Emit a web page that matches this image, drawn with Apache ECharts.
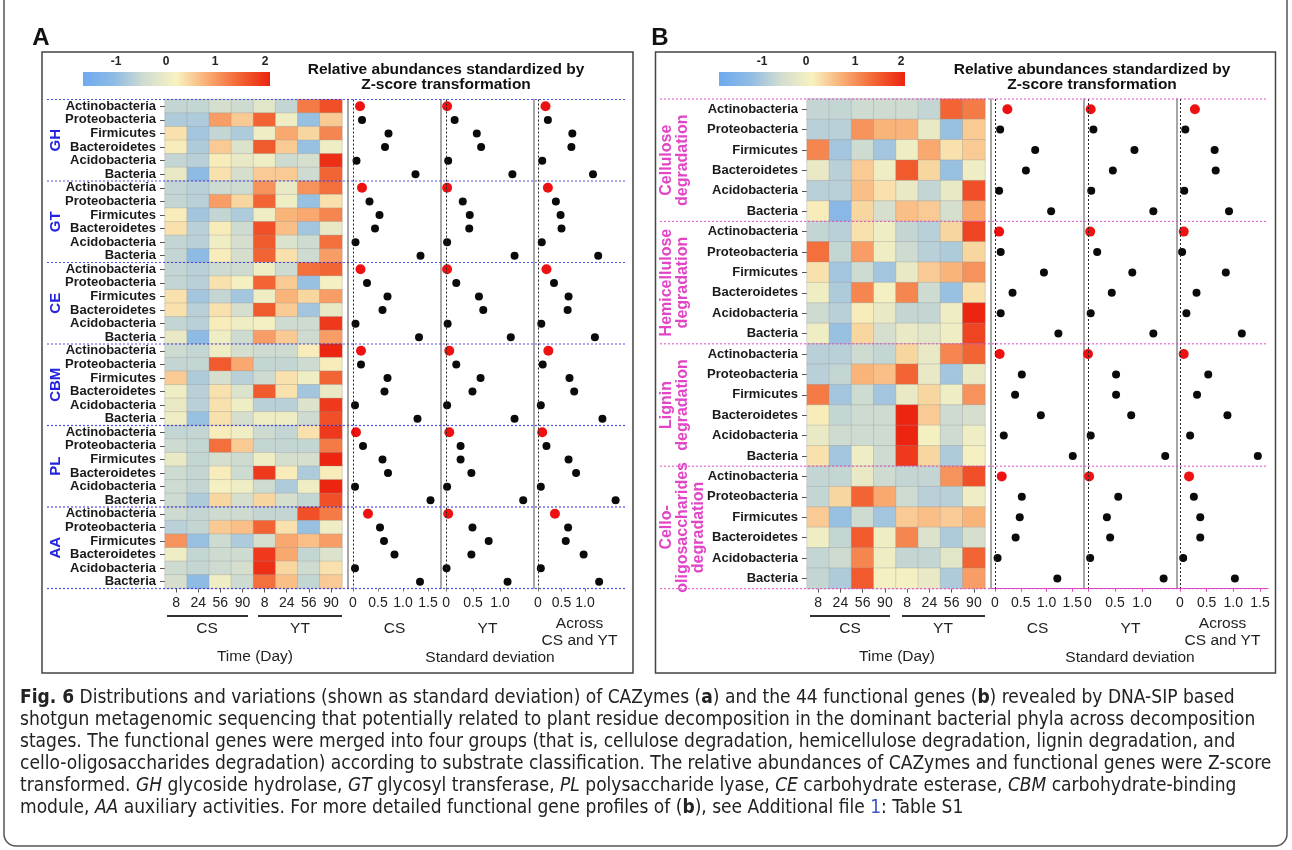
<!DOCTYPE html>
<html>
<head>
<meta charset="utf-8">
<title>Fig. 6</title>
<script src="https://cdn.jsdelivr.net/npm/echarts@6/dist/echarts.min.js"></script>
<style>
html, body { margin: 0; padding: 0; background: #fff; }
#main { width: 1292px; height: 850px; }
</style>
</head>
<body>
<div id="main"></div>
<script>
var phyla = ['Actinobacteria', 'Proteobacteria', 'Firmicutes', 'Bacteroidetes', 'Acidobacteria', 'Bacteria'];
var days = ['8', '24', '56', '90'];
var sites = ['CS', 'YT'];
var groupsA = ['GH', 'GT', 'CE', 'CBM', 'PL', 'AA'];
var groupsB = ['Cellulose\ndegradation', 'Hemicellulose\ndegradation', 'Lignin\ndegradation', 'Cello-\noligosaccharides\ndegradation'];
var colorbarTicks = [-1, 0, 1, 2];
var sdNames = ['CS', 'YT', 'Across\nCS and YT'];
var sdTicksA = [[0, 0.5, 1, 1.5], [0, 0.5, 1], [0, 0.5, 1]];
var sdTicksB = [[0, 0.5, 1, 1.5], [0, 0.5, 1], [0, 0.5, 1, 1.5]];

// z-scores: rows = phyla, cols = CS 8,24,56,90 then YT 8,24,56,90
var zGH = [
  [-0.5, -0.5, -0.3, -0.4, -0.1, -0.5, 1.3, 1.7],
  [-0.7, -0.7, 1.0, 0.6, 1.5, 0.1, -0.9, 0.6],
  [0.4, -0.8, -0.5, -0.7, 0.1, 0.9, 0.5, 1.2],
  [0.3, -0.7, 0.6, -0.2, 1.6, 0.6, -0.9, 0.1],
  [-0.5, -0.6, 0.3, 0.0, 0.1, -0.4, -0.3, 2.0],
  [0.0, -1.0, 0.4, -0.3, 0.6, 0.6, -0.4, 1.5]
];
var zGT = [
  [-0.5, -0.6, -0.4, -0.4, 1.1, 0.0, 1.1, 1.4],
  [-0.5, -0.6, 1.0, 0.5, 1.5, 0.1, -0.9, 0.4],
  [0.3, -0.8, -0.5, -0.7, 0.1, 0.8, 0.9, 1.2],
  [0.4, -0.6, 0.3, -0.4, 1.7, 0.7, -0.8, 0.0],
  [-0.5, -0.6, 0.1, -0.3, 1.6, -0.2, -0.4, 1.4],
  [-0.5, -1.0, 0.3, -0.3, 1.5, 0.4, -0.4, 1.0]
];
var zCE = [
  [-0.5, -0.6, -0.4, -0.4, 0.1, -0.4, 1.4, 1.5],
  [-0.5, -0.6, 0.4, 0.2, 1.5, 0.6, -0.9, 0.2],
  [0.4, -0.8, -0.5, -0.8, 0.1, 0.8, 0.5, 1.0],
  [0.4, -0.6, 0.4, -0.3, 1.6, 0.6, -0.8, 0.0],
  [-0.5, -0.6, 0.3, 0.1, 0.2, -0.4, -0.4, 1.9],
  [0.0, -1.0, 0.1, -0.4, 1.0, 0.6, -0.4, 1.0]
];
var zCBM = [
  [-0.4, -0.5, 0.1, -0.3, -0.4, -0.4, 0.3, 2.1],
  [-0.5, -0.5, 1.6, 0.9, -0.5, -0.5, -0.4, 0.3],
  [0.6, -0.7, -0.3, -0.6, -0.4, 0.4, 0.1, 1.5],
  [0.1, -0.6, 0.4, -0.2, 1.6, 0.4, -0.8, 0.0],
  [0.0, -0.6, 0.4, 0.1, -0.6, -0.6, -0.2, 1.9],
  [0.1, -0.9, 0.4, -0.3, 0.1, 0.1, -0.4, 1.7]
];
var zPL = [
  [-0.5, -0.5, 0.3, 0.1, -0.4, -0.5, 0.4, 1.9],
  [-0.4, -0.5, 1.4, 0.6, -0.5, -0.5, -0.5, 1.3],
  [0.0, -0.5, -0.3, -0.4, 0.1, -0.3, -0.3, 2.2],
  [-0.4, -0.5, 0.3, -0.4, 1.9, 0.3, -0.7, 0.3],
  [-0.4, -0.5, 0.2, 0.1, -0.4, -0.7, 0.1, 2.1],
  [-0.4, -0.7, 0.5, -0.3, 0.5, -0.3, -0.5, 1.7]
];
var zAA = [
  [-0.4, -0.5, -0.4, -0.4, -0.5, -0.5, 1.7, 1.3],
  [-0.6, -0.5, 0.6, 0.7, 1.5, 0.4, -0.9, 0.1],
  [1.1, -0.9, -0.4, -0.7, -0.3, 0.9, 0.7, 1.0],
  [0.1, -0.5, -0.4, -0.4, 1.9, 0.9, -0.5, -0.2],
  [-0.4, -0.5, -0.4, -0.3, 2.0, 0.5, -0.4, 0.4],
  [-0.3, -1.0, 0.1, -0.4, 1.4, 0.7, -0.5, 0.6]
];
var zCellulose = [
  [-0.5, -0.5, -0.4, -0.4, -0.4, -0.5, 1.5, 1.3],
  [-0.6, -0.6, 1.1, 0.8, 0.8, 0.0, -0.9, 0.6],
  [1.2, -0.8, -0.4, -0.8, 0.1, 0.9, 0.4, 0.6],
  [0.0, -0.6, 0.6, 0.1, 1.6, 0.5, -0.9, 0.1],
  [-0.6, -0.6, 0.7, 0.4, 0.0, -0.5, 0.0, 1.7],
  [0.3, -1.1, 0.5, -0.3, 0.7, 0.6, -0.3, 0.9]
];
var zHemicellulose = [
  [-0.5, -0.6, 0.4, 0.1, -0.5, -0.6, 0.5, 1.8],
  [1.4, -0.5, 1.0, 0.1, -0.4, -0.6, -0.7, 0.5],
  [0.4, -0.8, -0.4, -0.8, 0.0, 0.6, 0.8, 1.1],
  [0.1, -0.7, 1.2, 0.2, 1.2, -0.4, -0.9, 0.4],
  [-0.4, -0.6, 0.3, 0.0, -0.5, -0.5, 0.1, 2.1],
  [0.1, -0.9, 0.5, -0.3, 0.0, -0.1, 0.1, 1.8]
];
var zLignin = [
  [-0.6, -0.6, -0.4, -0.5, 0.5, 0.0, 1.2, 1.5],
  [-0.6, -0.5, 0.8, 0.7, 1.5, 0.0, -0.8, 0.0],
  [1.3, -0.8, -0.4, -0.8, 0.0, 0.5, 0.1, 1.1],
  [0.3, -0.5, -0.4, -0.4, 2.2, 0.6, -0.4, -0.3],
  [0.0, -0.4, -0.4, -0.4, 2.4, 0.2, -0.4, 0.1],
  [0.4, -0.8, 0.1, -0.4, 1.9, 0.5, -0.7, 0.2]
];
var zCello = [
  [-0.5, -0.5, 0.0, -0.4, -0.5, -0.5, 1.1, 1.7],
  [-0.5, 0.5, 1.5, 0.9, -0.4, -0.6, -0.6, 0.1],
  [0.6, -0.9, -0.4, -0.8, 0.6, 0.7, 0.6, 0.8],
  [0.1, -0.5, 1.6, 0.1, 1.2, -0.2, -0.7, -0.3],
  [-0.5, -0.4, 1.2, 0.1, -0.5, -0.5, -0.1, 1.5],
  [-0.5, -0.7, 1.6, 0.2, 0.2, 0.0, -0.7, 1.0]
];

// standard deviations, 6 phyla per group in group order
var sdA_CS = [0.14, 0.18, 0.71, 0.64, 0.07, 1.25,  0.18, 0.33, 0.53, 0.44, 0.05, 1.35,  0.15, 0.28, 0.69, 0.59, 0.05, 1.32,
              0.16, 0.16, 0.69, 0.63, 0.04, 1.29,  0.06, 0.20, 0.59, 0.70, 0.04, 1.55,  0.30, 0.54, 0.62, 0.83, 0.04, 1.34];
var sdA_YT = [0.02, 0.16, 0.57, 0.65, 0.04, 1.23,  0.02, 0.31, 0.44, 0.43, 0.02, 1.27,  0.02, 0.19, 0.61, 0.69, 0.03, 1.20,
              0.06, 0.19, 0.64, 0.49, 0.02, 1.27,  0.06, 0.27, 0.27, 0.47, 0.02, 1.43,  0.04, 0.49, 0.79, 0.47, 0.01, 1.14];
var sdA_All = [0.16, 0.21, 0.73, 0.71, 0.09, 1.17,  0.21, 0.38, 0.48, 0.50, 0.08, 1.28,  0.18, 0.34, 0.65, 0.63, 0.07, 1.21,
               0.22, 0.10, 0.67, 0.77, 0.06, 1.37,  0.09, 0.18, 0.65, 0.81, 0.06, 1.65,  0.36, 0.64, 0.59, 0.97, 0.06, 1.30];
var sdB_CS = [0.24, 0.10, 0.78, 0.60, 0.08, 1.09,  0.08, 0.11, 0.95, 0.34, 0.11, 1.23,
              0.09, 0.52, 0.39, 0.89, 0.17, 1.51,  0.13, 0.52, 0.48, 0.40, 0.05, 1.21];
var sdB_YT = [0.05, 0.10, 0.86, 0.46, 0.06, 1.21,  0.04, 0.17, 0.82, 0.44, 0.05, 1.21,
              0.00, 0.52, 0.52, 0.80, 0.05, 1.43,  0.02, 0.56, 0.35, 0.41, 0.04, 1.40];
var sdB_All = [0.28, 0.10, 0.65, 0.67, 0.08, 0.92,  0.07, 0.04, 0.86, 0.31, 0.12, 1.16,
               0.07, 0.53, 0.32, 0.89, 0.19, 1.46,  0.17, 0.26, 0.38, 0.38, 0.06, 1.03];

var FONT = "'Liberation Sans', Arial, sans-serif";
var CAP_FONT = "'DejaVu Sans Condensed', 'Liberation Sans', sans-serif";
var Z_MIN = -1.6, Z_MAX = 2.1;
var Z_COLORS = ['#6eaaf0', '#8fbbe4', '#d2ddd0', '#f8f2c0', '#f9ac72', '#f26634', '#ec2410'];
var BLUE = '#2323e0', PINK = '#e245c6';

var timeCats = [];
sites.forEach(function (s) { days.forEach(function (d) { timeCats.push(s + ' ' + d); }); });

function rowCats(groups) {
  var out = [];
  groups.forEach(function (g) { phyla.forEach(function (p) { out.push(g + '|' + p); }); });
  return out;
}
var rowsA = rowCats(groupsA);
var rowsB = rowCats(groupsB);

function heatData(mats) {
  var out = [];
  mats.forEach(function (m, g) {
    m.forEach(function (row, r) {
      row.forEach(function (v, c) { out.push([c, g * 6 + r, v]); });
    });
  });
  return out;
}
function dotData(vals) {
  return vals.map(function (v, i) {
    var first = i % 6 === 0;
    return { value: [v, i], symbolSize: first ? 10 : 8, itemStyle: { color: first ? '#ee1111' : '#0a0a0a', opacity: 1 } };
  });
}

// layout of the two panels
var panels = [
  { heat: [165, 99.5, 177, 489], sd: [[348, 93, -0.1, 1.76], [441, 93, -0.093, 1.63], [534, 91, -0.085, 1.85]],
    rows: rowsA, mats: [zGH, zGT, zCE, zCBM, zPL, zAA], sdv: [sdA_CS, sdA_YT, sdA_All], ticks: sdTicksA,
    sep: BLUE, sepX: [47, 625], axisLine: false },
  { heat: [807, 99, 178, 489.6], sd: [[991, 93, -0.078, 1.728], [1084, 93, -0.074, 1.648], [1177, 91, -0.056, 1.651]],
    rows: rowsB, mats: [zCellulose, zHemicellulose, zLignin, zCello], sdv: [sdB_CS, sdB_YT, sdB_All], ticks: sdTicksB,
    sep: PINK, sepX: [660, 1268], axisLine: true }
];

var grids = [], xAxes = [], yAxes = [], series = [];
panels.forEach(function (p) {
  var gi = grids.length;
  grids.push({ left: p.heat[0], top: p.heat[1], width: p.heat[2], height: p.heat[3] });
  xAxes.push({
    type: 'category', gridIndex: gi, data: timeCats,
    axisLine: { show: false },
    axisTick: { show: true, alignWithLabel: true, interval: 0, length: 4, lineStyle: { color: '#555' } },
    axisLabel: { interval: 0, formatter: function (v) { return v.split(' ')[1]; }, fontSize: 14, color: '#222', fontFamily: FONT, margin: 8 }
  });
  yAxes.push({
    type: 'category', gridIndex: gi, data: p.rows, inverse: true,
    axisLine: { show: false },
    axisTick: { show: true, alignWithLabel: true, interval: 0, length: 5, lineStyle: { color: '#555' } },
    axisLabel: { interval: 0, formatter: function (v) { return v.split('|')[1]; }, fontSize: 13, fontWeight: 'bold', color: '#1a1a1a', fontFamily: FONT, margin: 9 }
  });
  series.push({
    type: 'heatmap', xAxisIndex: gi, yAxisIndex: gi, data: heatData(p.mats),
    itemStyle: { borderColor: 'rgba(150,150,150,0.45)', borderWidth: 0.7 },
    emphasis: { disabled: true }
  });
  p.sd.forEach(function (s, k) {
    var g = grids.length;
    grids.push({ left: s[0], top: p.heat[1], width: s[1], height: p.heat[3] });
    xAxes.push({
      type: 'value', gridIndex: g, min: s[2], max: s[3],
      splitLine: { show: false },
      axisLine: { show: p.axisLine, lineStyle: { color: PINK, width: 1.2 } },
      axisTick: { show: true, customValues: p.ticks[k], length: 3, lineStyle: { color: p.axisLine ? PINK : '#777' } },
      axisLabel: { customValues: p.ticks[k], formatter: function (v) { return v === 0 ? '0' : v.toFixed(1); },
        fontSize: 14, color: '#222', fontFamily: FONT, margin: 8 },
      name: sdNames[k], nameLocation: 'middle', nameGap: k === 2 ? 22 : 32,
      nameTextStyle: { fontSize: 15.5, color: '#222', fontFamily: FONT, lineHeight: 17 }
    });
    yAxes.push({
      type: 'category', gridIndex: g, data: p.rows, inverse: true,
      axisLine: { show: true, onZero: false, lineStyle: { color: '#8a8a8a', width: 1.5 } },
      axisTick: { show: false }, axisLabel: { show: false }
    });
    series.push({
      type: 'scatter', xAxisIndex: g, yAxisIndex: g, data: dotData(p.sdv[k]),
      emphasis: { disabled: true },
      markLine: { silent: true, symbol: 'none', label: { show: false },
        lineStyle: { color: '#222', type: [2, 2], width: 1 }, data: [{ xAxis: 0 }] }
    });
  });
});

// decorations
var G = [];
function addText(x, y, s, st, rot) {
  G.push({ type: 'text', x: x, y: y, rotation: rot || 0, silent: true, z: 100,
    style: Object.assign({ text: s, fill: '#222', fontSize: 15.5, fontFamily: FONT, align: 'center', verticalAlign: 'middle' }, st || {}) });
}
function addLine(x1, y1, x2, y2, st) {
  G.push({ type: 'line', silent: true, z: 100, shape: { x1: x1, y1: y1, x2: x2, y2: y2 },
    style: Object.assign({ stroke: '#333', lineWidth: 1 }, st || {}) });
}
function addRect(x, y, w, h, st, r) {
  G.push({ type: 'rect', silent: true, z: 90, shape: { x: x, y: y, width: w, height: h, r: r || 0 }, style: st });
}
var stops = Z_COLORS.map(function (c, i) { return { offset: i / (Z_COLORS.length - 1), color: c }; });

addRect(4, -20, 1283, 866, { fill: 'none', stroke: '#555', lineWidth: 1.5 }, 12);
addRect(42, 52, 591, 621, { fill: 'none', stroke: '#444', lineWidth: 1.5 });
addRect(655.5, 52, 620, 621, { fill: 'none', stroke: '#444', lineWidth: 1.5 });
addText(41, 38, 'A', { fontSize: 24, fontWeight: 'bold', fill: '#111' });
addText(660, 38, 'B', { fontSize: 24, fontWeight: 'bold', fill: '#111' });

// colour bars
[[83, 187, [116, 166, 215, 265]], [719, 186, [762, 806, 855, 901]]].forEach(function (cb) {
  addRect(cb[0], 72, cb[1], 14, { fill: new echarts.graphic.LinearGradient(0, 0, 1, 0, stops) });
  colorbarTicks.forEach(function (t, i) { addText(cb[2][i], 62, String(t), { fontSize: 12, fontWeight: 'bold' }); });
});
[446, 1092].forEach(function (cx) {
  addText(cx, 70, 'Relative abundances standardized by', { fontSize: 15.5, fontWeight: 'bold', fill: '#111' });
  addText(cx, 85, 'Z-score transformation', { fontSize: 15.5, fontWeight: 'bold', fill: '#111' });
});

// group separators and group labels
panels.forEach(function (p, pi) {
  var groups = pi === 0 ? groupsA : groupsB;
  var gh = p.heat[3] / groups.length;
  for (var k = 0; k <= groups.length; k++) {
    var y = p.heat[1] + k * gh;
    addLine(p.sepX[0], y, p.sepX[1], y, { stroke: p.sep, lineWidth: 1.2, lineDash: [2, 2], opacity: 0.8 });
  }
  groups.forEach(function (g, k) {
    var yc = p.heat[1] + (k + 0.5) * gh;
    if (pi === 0) addText(56, yc, g, { fontSize: 15, fontWeight: 'bold', fill: BLUE }, Math.PI / 2);
    else addText(659, yc, g, { fontSize: 16, fontWeight: 'bold', fill: PINK, verticalAlign: 'top', lineHeight: 16 }, Math.PI / 2);
  });
});

// site brackets under the heatmaps
[[167, 248, 258, 342, 207, 300, 255], [810, 890, 902, 985, 850, 943, 897]].forEach(function (b) {
  addLine(b[0], 616, b[1], 616, { stroke: '#333', lineWidth: 2 });
  addLine(b[2], 616, b[3], 616, { stroke: '#333', lineWidth: 2 });
  addText(b[4], 629, sites[0]);
  addText(b[5], 629, sites[1]);
  addText(b[6], 657, 'Time (Day)');
});
addText(490, 658, 'Standard deviation');
addText(1130, 658, 'Standard deviation');

// caption, sized so the second (plain) line spans the same width as in the figure
var caption = [
  '{b|Fig. 6} Distributions and variations (shown as standard deviation) of CAZymes ({b|a}) and the 44 functional genes ({b|b}) revealed by DNA-SIP based',
  'shotgun metagenomic sequencing that potentially related to plant residue decomposition in the dominant bacterial phyla across decomposition',
  'stages. The functional genes were merged into four groups (that is, cellulose degradation, hemicellulose degradation, lignin degradation, and',
  'cello-oligosaccharides degradation) according to substrate classification. The relative abundances of CAZymes and functional genes were Z-score',
  'transformed. {i|GH} glycoside hydrolase, {i|GT} glycosyl transferase, {i|PL} polysaccharide lyase, {i|CE} carbohydrate esterase, {i|CBM} carbohydrate-binding',
  'module, {i|AA} auxiliary activities. For more detailed functional gene profiles of ({b|b}), see Additional file {l|1}: Table S1'
];
var mctx = document.createElement('canvas').getContext('2d');
mctx.font = '100px ' + CAP_FONT;
var capSize = Math.round(100 * 1235 / mctx.measureText(caption[1]).width * 10) / 10;
function rs(extra) {
  return Object.assign({ fontSize: capSize, fontFamily: CAP_FONT, fill: '#222' }, extra);
}
caption.forEach(function (line, i) {
  G.push({ type: 'text', x: 20, y: 698 + i * 22, silent: true,
    style: { text: line, fontSize: capSize, fontFamily: CAP_FONT, fill: '#222', align: 'left', verticalAlign: 'middle',
      rich: { b: rs({ fontWeight: 'bold' }), i: rs({ fontStyle: 'italic' }), l: rs({ fill: '#3a55c8' }) } } });
});

var chart = echarts.init(document.getElementById('main'));
chart.setOption({
  animation: false,
  backgroundColor: '#fff',
  grid: grids,
  xAxis: xAxes,
  yAxis: yAxes,
  visualMap: { type: 'continuous', show: false, min: Z_MIN, max: Z_MAX, dimension: 2, seriesIndex: [0, 4], inRange: { color: Z_COLORS } },
  series: series,
  graphic: G
});
</script>
</body>
</html>
